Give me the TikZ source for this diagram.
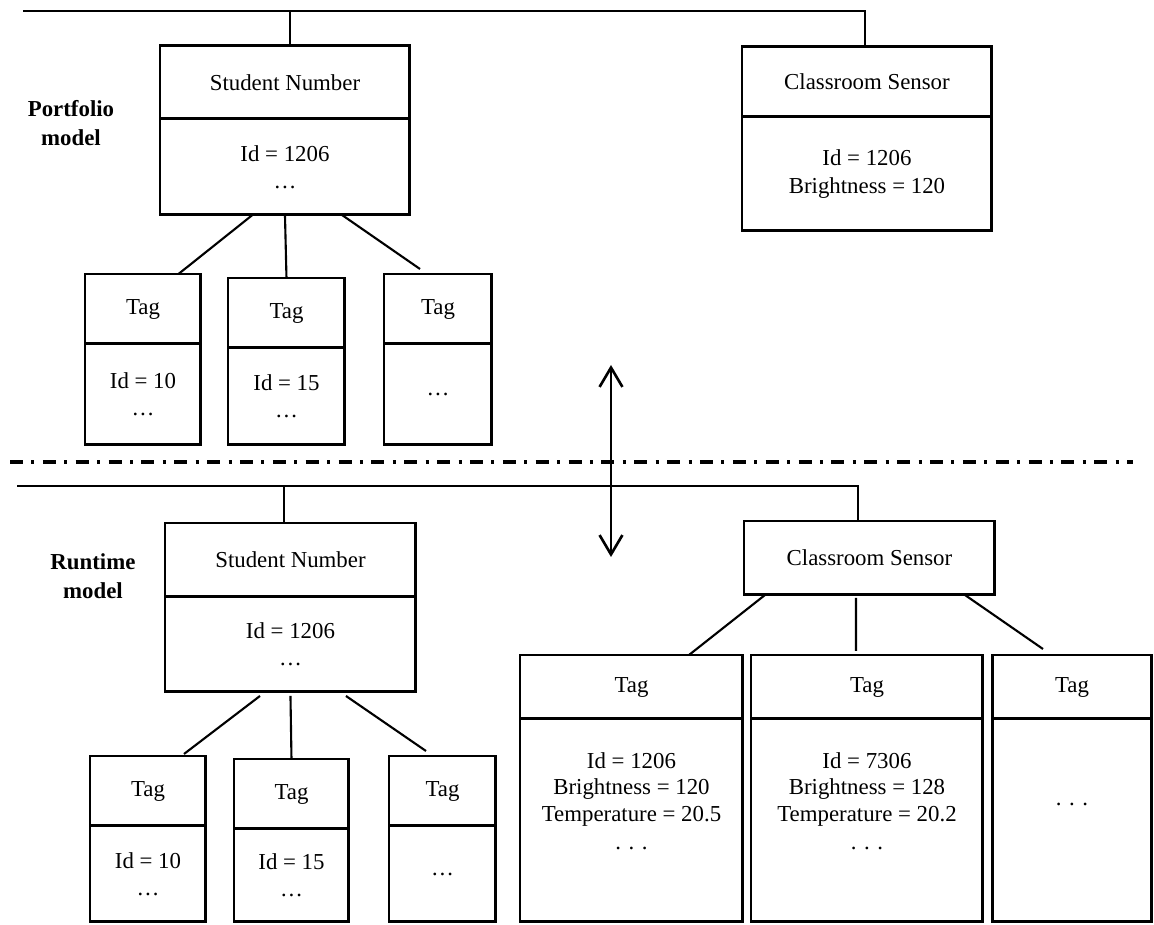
\documentclass[tikz,border=0pt]{standalone}
\usepackage{fontspec}
\setmainfont{Liberation Serif}
\usetikzlibrary{positioning,arrows.meta}
\tikzset{
  cell/.style={draw,line width=1.7pt,outer sep=0pt,align=center,inner sep=1pt,minimum width=#1},
  txt/.style={align=center,font=\fontsize{13}{15}\selectfont},
  link/.style={line width=1.2pt},
  bus/.style={line width=1.6pt},
  cut/.style={line width=1.8pt,dash pattern=on 7.4pt off 4.8pt on 1.7pt off 4.8pt},
  lbl/.style={font=\fontsize{13}{16.5}\selectfont\bfseries,align=center},
  barb/.tip={Straight Barb[length=11pt,width=13pt]},
}
\begin{document}
\begin{tikzpicture}[x=0.02cm,y=-0.02cm,font=\fontsize{13}{15.6}\selectfont]
\useasboundingbox (0,0) rectangle (1154,925);

% portfolio model
\node[lbl] (pm) at (71,123) {Portfolio\\model};
\node[cell=5cm,minimum height=1.46cm,anchor=north west] (snA) at (160,46) {Student Number};
\node[cell=5cm,minimum height=1.92cm,below=0pt of snA] (snAb) {Id = 1206\\…};
\node[cell=5cm,minimum height=1.40cm,anchor=north west] (csA) at (742,47) {Classroom Sensor};
\node[cell=5cm,minimum height=2.28cm,below=0pt of csA] (csAb) {Id = 1206\\Brightness = 120};
\node[cell=2.32cm,minimum height=1.40cm,anchor=north west] (tA1) at (85,274) {Tag};
\node[cell=2.32cm,minimum height=2.02cm,below=0pt of tA1] (tA1b) {Id = 10\\…};
\node[cell=2.34cm,minimum height=1.40cm,anchor=north west] (tA2) at (228,278) {Tag};
\node[cell=2.34cm,minimum height=1.94cm,below=0pt of tA2] (tA2b) {Id = 15\\…};
\node[cell=2.16cm,minimum height=1.40cm,anchor=north west] (tA3) at (384,274) {Tag};
\node[cell=2.16cm,minimum height=2.02cm,below=0pt of tA3] (tA3b) {…};

\coordinate (busA) at (23,11);
\draw[bus] (busA) -| ([xshift=-.04cm]csA.north);
\draw[bus] ([xshift=.1cm]snA.north) -- ([xshift=.1cm]snA.north |- busA);
\draw[link] ([xshift=-.65cm]snAb.south) -- ([xshift=.71cm]tA1.north);
\draw[link] (snAb.south) -- (tA2.north);
\draw[link] ([xshift=1.14cm]snAb.south) -- ([xshift=-.36cm,yshift=.1cm]tA3.north);

% separation
\coordinate (cutL) at (10,462);
\coordinate (cutR) at (1133,462);
\draw[cut] (cutL) -- (cutR);
\coordinate (up) at (611,365);
\coordinate (dn) at (611,557);
\draw[line width=1.5pt,barb-barb] (up) -- (dn);

% runtime model
\node[lbl] (rm) at (93,576) {Runtime\\model};
\node[cell=5.02cm,minimum height=1.48cm,anchor=north west] (snB) at (165,523) {Student Number};
\node[cell=5.02cm,minimum height=1.90cm,below=0pt of snB] (snBb) {Id = 1206\\…};
\node[cell=5.02cm,minimum height=1.48cm,anchor=north west] (csB) at (744,521) {Classroom Sensor};
\node[cell=2.32cm,minimum height=1.40cm,anchor=north west] (tB1) at (90,756) {Tag};
\node[cell=2.32cm,minimum height=1.92cm,below=0pt of tB1] (tB1b) {Id = 10\\…};
\node[cell=2.30cm,minimum height=1.40cm,anchor=north west] (tB2) at (234,759) {Tag};
\node[cell=2.30cm,minimum height=1.86cm,below=0pt of tB2] (tB2b) {Id = 15\\…};
\node[cell=2.14cm,minimum height=1.40cm,anchor=north west] (tB3) at (389,756) {Tag};
\node[cell=2.14cm,minimum height=1.92cm,below=0pt of tB3] (tB3b) {…};
\node[cell=4.46cm,minimum height=1.28cm,anchor=north west] (tC1) at (520,655) {Tag};
\node[cell=4.46cm,minimum height=4.06cm,below=0pt of tC1] (tC1b) {};
\node[cell=4.64cm,minimum height=1.28cm,anchor=north west] (tC2) at (751,655) {Tag};
\node[cell=4.64cm,minimum height=4.06cm,below=0pt of tC2] (tC2b) {};
\node[cell=3.20cm,minimum height=1.28cm,anchor=north west] (tC3) at (992,655) {Tag};
\node[cell=3.20cm,minimum height=4.06cm,below=0pt of tC3] (tC3b) {};
\node[txt] (tC1t) at ([yshift=-1.64cm]tC1b.north) {Id = 1206\\Brightness = 120\\Temperature = 20.5\\[1pt] . . .};
\node[txt] (tC2t) at ([yshift=-1.64cm]tC2b.north) {Id = 7306\\Brightness = 128\\Temperature = 20.2\\[1pt] . . .};
\node[txt] (tC3t) at ([yshift=-1.72cm]tC3b.north) {. . .};

\coordinate (busB) at (17,486);
\draw[bus] (busB) -| ([xshift=-.23cm]csB.north);
\draw[bus] ([xshift=-.13cm]snB.north) -- ([xshift=-.13cm]snB.north |- busB);
\draw[link] ([xshift=-.61cm,yshift=-.08cm]snBb.south) -- ([xshift=.72cm,yshift=.04cm]tB1.north);
\draw[link] ([yshift=-.08cm]snBb.south) -- (tB2.north);
\draw[link] ([xshift=1.11cm,yshift=-.08cm]snBb.south) -- ([xshift=-.33cm,yshift=.1cm]tB3.north);
\draw[link] ([xshift=-2.09cm]csB.south) -- ([xshift=1.15cm]tC1.north);
\draw[link] ([xshift=-.27cm,yshift=-.06cm]csB.south) -- ([xshift=-.22cm,yshift=.08cm]tC2.north);
\draw[link] ([xshift=1.91cm]csB.south) -- ([xshift=-.58cm,yshift=.12cm]tC3.north);
\end{tikzpicture}
\end{document}
